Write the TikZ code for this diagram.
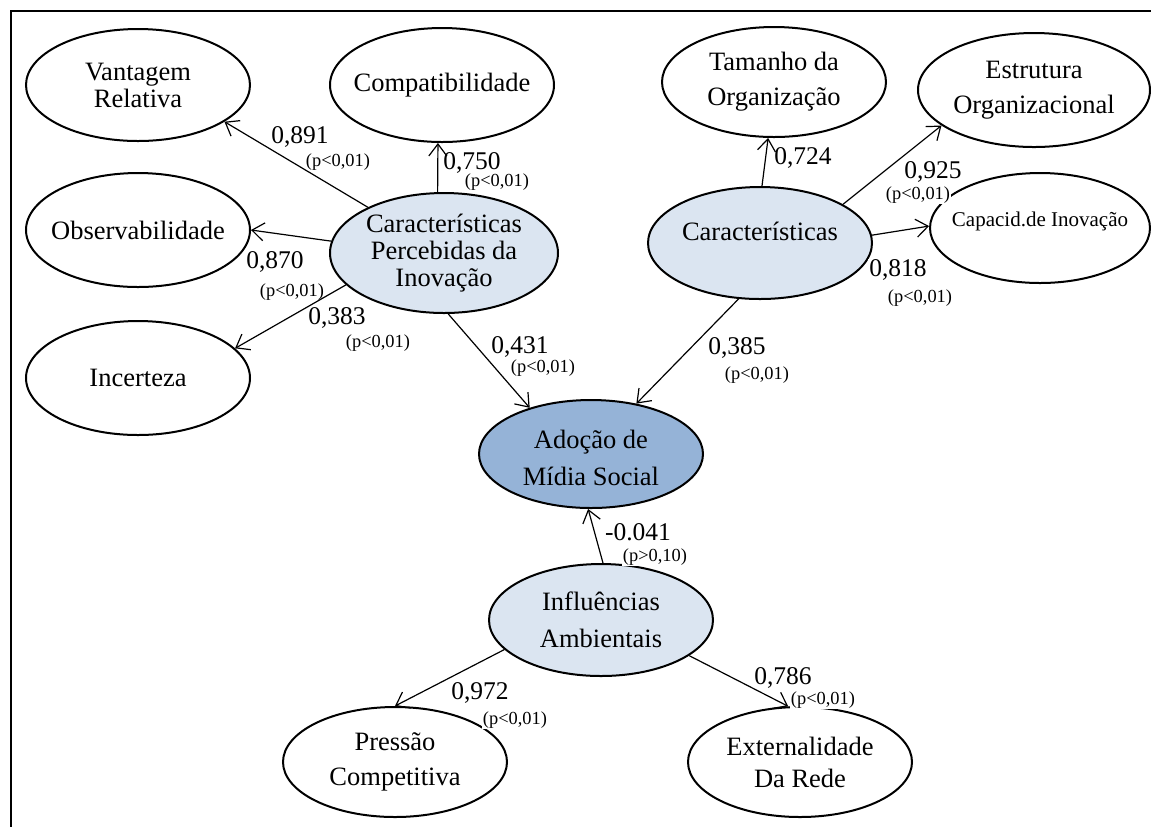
\documentclass[tikz,border=0pt]{standalone}
\usepackage{fontspec}
\setmainfont{Liberation Serif}
\usepackage{tikz}
\usetikzlibrary{shapes.geometric, arrows.meta}
\definecolor{latent blue}{HTML}{DBE5F1}
\definecolor{target blue}{HTML}{95B3D7}
\tikzset{frame/.style={line width=1pt}}
\tikzset{construct/.style={ellipse, draw, line width=1pt, minimum width=112pt, minimum height=56pt, inner sep=0pt}}
\tikzset{latent/.style={construct, fill=latent blue}}
\tikzset{target/.style={construct, fill=target blue}}
\tikzset{txt/.style={align=center, inner sep=0pt, font=\fontsize{13.25}{17.5}\selectfont}}
\tikzset{txttight/.style={align=center, inner sep=0pt, font=\fontsize{13.25}{13.5}\selectfont}}
\tikzset{coef/.style={fill=white, inner sep=0.5pt, font=\fontsize{12.75}{14}\selectfont}}
\tikzset{pval/.style={fill=white, inner sep=0.5pt, font=\fontsize{9.2}{10}\selectfont}}
\tikzset{loading/.style={-{Straight Barb[length=6pt, width=9pt]}, line width=0.6pt}}

\begin{document}
\begin{tikzpicture}[x=0.5pt, y=-0.5pt]
    \useasboundingbox (0,0) rectangle (1151,827);
    \draw[frame] (1151,11) -- (11,11) -- (11,827);

    % innovation side
    \node[construct, label={[txttight]center:Vantagem\\Relativa}] (vr) at (138,85) {};
    \node[construct, minimum height=57pt, label={[txt]center:Compatibilidade}] (co) at (442,85) {};
    \node[construct, minimum height=57pt, label={[txt]center:Observabilidade}] (ob) at (138,230) {};
    \node[construct, minimum height=57pt, label={[txt]center:Incerteza}] (in) at (138,378) {};
    \node[latent, minimum width=114pt, minimum height=60pt, label={[txttight]center:Características\\Percebidas da\\Inovação}] (cpi) at (444,253) {};

    % organisation side
    \node[construct, minimum height=55pt, label={[txt]center:Tamanho da\\Organização}] (ta) at (774,82) {};
    \node[construct, minimum width=116pt, minimum height=57pt, label={[txt]center:Estrutura\\Organizacional}] (es) at (1034,90) {};
    \node[latent, label={[txt, yshift=6pt]center:Características}] (car) at (760,243) {};
    \node[construct, minimum width=110pt, minimum height=55pt, label={[txt, yshift=3.5pt, font=\fontsize{10.5}{12}\selectfont]center:Capacid.de Inovação}] (cap) at (1040,228) {};

    % centre and environment
    \node[target, minimum height=54pt, label={[txt, yshift=-2pt, font=\fontsize{13.25}{18.5}\selectfont]center:Adoção de\\Mídia Social}] (ad) at (591,454) {};
    \node[latent, label={[txt, font=\fontsize{13.25}{18.5}\selectfont]center:Influências\\Ambientais}] (inf) at (601,620) {};
    \node[construct, minimum height=55pt, label={[txt]center:Pressão\\Competitiva}] (pc) at (395,762) {};
    \node[construct, minimum height=55pt, label={[txt, font=\fontsize{13.25}{16}\selectfont]center:Externalidade\\Da Rede}] (ex) at (800,762) {};

    % coefficients
    \node[coef] (c-vr) at (300,137) {0,891};
    \node[pval] (p-vr) at (338,162) {(p<0,01)};
    \node[coef] (c-co) at (472,163) {0,750};
    \node[pval] (p-co) at (497,182) {(p<0,01)};
    \node[coef] (c-ob) at (275,262) {0,870};
    \node[pval] (p-ob) at (292,292) {(p<0,01)};
    \node[coef] (c-in) at (337,318) {0,383};
    \node[pval] (p-in) at (378,343) {(p<0,01)};
    \node[coef] (c-cpi) at (520,347) {0,431};
    \node[pval] (p-cpi) at (543,368) {(p<0,01)};
    \node[coef] (c-ta) at (803,158) {0,724};
    \node[coef] (c-es) at (933,172) {0,925};
    \node[pval] (p-es) at (918,195) {(p<0,01)};
    \node[coef] (c-cap) at (898,270) {0,818};
    \node[pval] (p-cap) at (920,298) {(p<0,01)};
    \node[coef] (c-car) at (737,348) {0,385};
    \node[pval] (p-car) at (757,375) {(p<0,01)};
    \node[coef] (c-inf) at (638,532) {-0.041};
    \node[pval] (p-inf) at (655,557) {(p>0,10)};
    \node[coef] (c-pc) at (480,693) {0,972};
    \node[pval] (p-pc) at (515,720) {(p<0,01)};
    \node[coef] (c-ex) at (783,678) {0,786};
    \node[pval] (p-ex) at (823,700) {(p<0,01)};

    % paths
    \draw[loading] (cpi.149) -- (vr.-23);
    \draw[loading] (cpi.96) -- (co.-94);
    \draw[loading] (cpi.174) -- (ob.0);
    \draw[loading] (cpi.-162) -- (in.17);
    \draw[loading] (cpi.-86) -- (ad.143);
    \draw[loading] (car.88) -- (ta.-96);
    \draw[loading] (car.25) -- (es.-159);
    \draw[loading] (car.4) -- (cap.179);
    \draw[loading] (car.-111) -- (ad.48);
    \draw[loading] (inf.88) -- (ad.-93);
    \draw[loading] (inf.-163) -- (pc.90);
    \draw[loading] (inf.-22) -- (ex.102);
\end{tikzpicture}
\end{document}
